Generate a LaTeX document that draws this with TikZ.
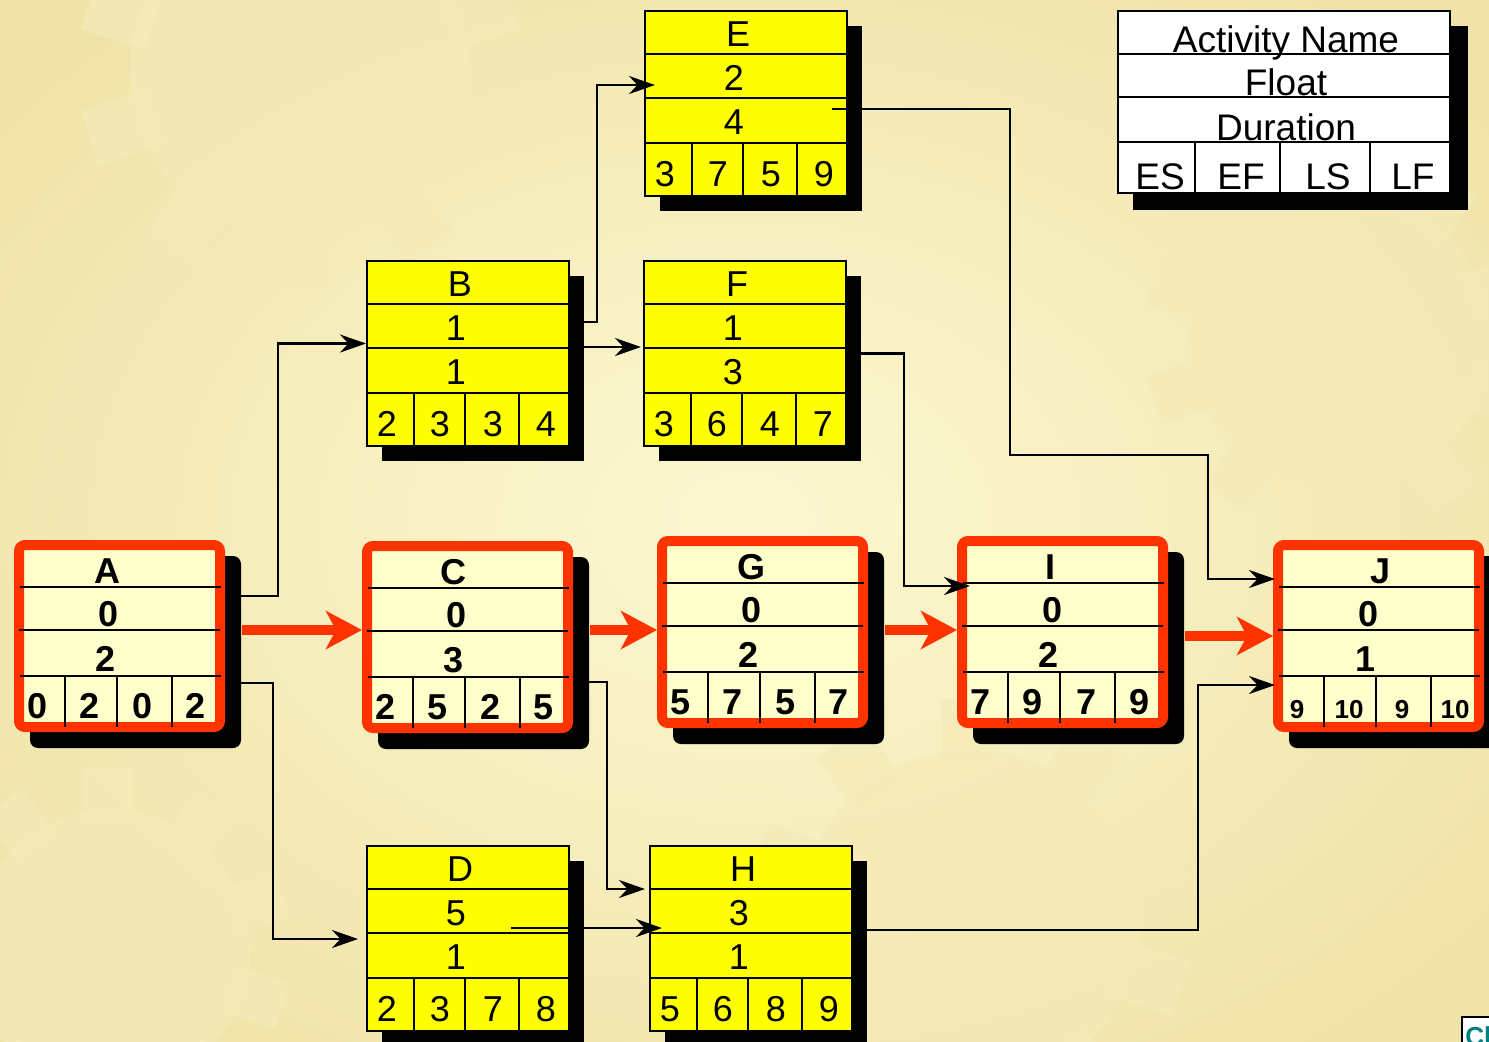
\documentclass[tikz,border=0pt]{standalone}
\usepackage{fontspec}
\setmainfont{Liberation Sans}
\usetikzlibrary{arrows.meta}

\definecolor{boxyellow}{HTML}{FFFF00}
\definecolor{critfill}{HTML}{FFFFCC}
\definecolor{critred}{HTML}{FF3300}
\definecolor{bgtan}{HTML}{F0E3A8}
\definecolor{bgcream}{HTML}{FCF8D2}
\definecolor{cogcol}{HTML}{F5EBB8}

\newcommand{\cog}[3]{%
	\fill[cogcol,opacity=0.7] (#1,#2) circle (#3);
	\foreach \t in {0,36,...,324}
		\fill[cogcol,opacity=0.7,rotate around={\t:(#1,#2)}] (#1-0.17*#3,#2-0.9*#3) rectangle (#1+0.17*#3,#2-1.3*#3);
}

\begin{document}
\begin{tikzpicture}[x=0.5pt,y=-0.5pt,
		box/.style={draw,line width=1pt,fill=boxyellow,anchor=north west,minimum width=101pt,minimum height=92.5pt,inner sep=0pt},
		critbox/.style={draw=critred,line width=5pt,fill=critfill,rounded corners=3pt,anchor=north west,minimum width=100.5pt,minimum height=91pt,inner sep=0pt},
		legbox/.style={draw,line width=1pt,fill=white,anchor=north west,minimum width=166pt,minimum height=91pt,inner sep=0pt},
		txt/.style={anchor=base,inner sep=0pt,font=\fontsize{18}{20}\selectfont},
		crittxt/.style={anchor=base,inner sep=0pt,font=\fontsize{18}{20}\selectfont\bfseries},
		legtxt/.style={anchor=base,inner sep=0pt,font=\fontsize{18.5}{20}\selectfont},
		conn/.style={line width=1.25pt,-{Stealth[length=13pt,width=9pt]}},
		critpath/.style={critred,line width=5pt,-{Stealth[length=18pt,width=19pt,inset=5pt]}}]
		\useasboundingbox (0,0) rectangle (1489,1041);
		\clip (0,0) rectangle (1489,1041);
		\shade[inner color=bgcream,outer color=bgtan] (-200,-150) rectangle (1689,1191);
		\cog{300}{70}{170}
		\cog{1340}{340}{150}
		\cog{970}{920}{170}
		\cog{110}{950}{140}

		\foreach \n/\x/\y/\f/\d/\es/\ef/\ls/\lf in {E/644/10/2/4/3/7/5/9,B/366/260/1/1/2/3/3/4,F/643/260/1/3/3/6/4/7,D/366/845/5/1/2/3/7/8,H/649/845/3/1/5/6/8/9}{
			\fill (\x+16,\y+16) rectangle ++(202,185);
			\node[box] (\n) at (\x,\y) {};
			\draw[line width=1pt] (\x,\y+44) -- ++(202,0) (\x,\y+88) -- ++(202,0) (\x,\y+133) -- ++(202,0);
			\draw[line width=1pt] (\x+48,\y+133) -- ++(0,52) (\x+99,\y+133) -- ++(0,52) (\x+153,\y+133) -- ++(0,52);
			\node[txt] (\n-name) at (\x+94,\y+36) {\n};
			\node[txt] (\n-fl) at (\x+90,\y+80) {\f};
			\node[txt] (\n-du) at (\x+90,\y+124) {\d};
			\node[txt] (\n-es) at (\x+21,\y+176) {\es};
			\node[txt] (\n-ef) at (\x+74,\y+176) {\ef};
			\node[txt] (\n-ls) at (\x+127,\y+176) {\ls};
			\node[txt] (\n-lf) at (\x+180,\y+176) {\lf};
		}

		\foreach \n/\x/\y/\f/\d/\es/\ef/\ls/\lf/\fs/\dx in {A/14/540/0/2/0/2/0/2/18/93,C/362/541/0/3/2/5/2/5/18/91,G/657/536/0/2/5/7/5/7/18/94,I/957/536/0/2/7/9/7/9/18/93,J/1273/540/0/1/9/10/9/10/13/107}{
			\fill[rounded corners=4pt] (\x+16,\y+16) rectangle ++(211,192);
			\node[critbox] (\n) at (\x,\y) {};
			\draw[line width=1pt] (\x+6,\y+47) -- ++(201,0) (\x+5,\y+90) -- ++(201,0) (\x+6,\y+136) -- ++(201,0);
			\draw[line width=1pt] (\x+51,\y+136) -- ++(0,51) (\x+103,\y+136) -- ++(0,51) (\x+158,\y+136) -- ++(0,51);
			\node[crittxt] (\n-name) at (\x+\dx,\y+43) {\n};
			\node[crittxt] (\n-fl) at (\x+95,\y+86) {\f};
			\node[crittxt] (\n-du) at (\x+92,\y+131) {\d};
			\node[crittxt,font=\fontsize{\fs}{\fs}\selectfont\bfseries] (\n-es) at (\x+24,\y+178) {\es};
			\node[crittxt,font=\fontsize{\fs}{\fs}\selectfont\bfseries] (\n-ef) at (\x+76,\y+178) {\ef};
			\node[crittxt,font=\fontsize{\fs}{\fs}\selectfont\bfseries] (\n-ls) at (\x+129,\y+178) {\ls};
			\node[crittxt,font=\fontsize{\fs}{\fs}\selectfont\bfseries] (\n-lf) at (\x+182,\y+178) {\lf};
		}

		\fill (1133,26) rectangle ++(335,184);
		\node[legbox] (key) at (1117,10) {};
		\draw[line width=1pt] (1117,54) -- ++(334,0) (1117,97) -- ++(334,0) (1117,142) -- ++(334,0);
		\draw[line width=1pt] (1195,142) -- ++(0,52) (1280,142) -- ++(0,52) (1370,142) -- ++(0,52);
		\node[legtxt] (key-name) at (1286,52) {Activity Name};
		\node[legtxt] (key-fl) at (1286,95) {Float};
		\node[legtxt] (key-du) at (1286,140) {Duration};
		\node[legtxt] (key-es) at (1160,189) {ES};
		\node[legtxt] (key-ef) at (1241,189) {EF};
		\node[legtxt] (key-ls) at (1328,189) {LS};
		\node[legtxt] (key-lf) at (1413,189) {LF};

		\draw[critpath] ([xshift=8.5pt,yshift=3pt]A.east) -- ([yshift=3.5pt]C.west);
		\draw[critpath] ([xshift=8.5pt,yshift=3.5pt]C.east) -- ([yshift=1pt]G.west);
		\draw[critpath] ([xshift=8.5pt,yshift=1pt]G.east) -- ([yshift=1pt]I.west);
		\draw[critpath] ([xshift=8.5pt,yshift=-2pt]I.east) -- (J.west);

		\draw[conn] ([yshift=20pt]A.east) -- ++(53,0) |- ([yshift=5pt]B.west);
		\draw[conn,shorten >=4pt] ([yshift=-23.5pt]A.east) -- ++(48,0) |- ([yshift=-0.25pt]D.west);
		\draw[conn] ([yshift=15.75pt]B.east) -- ++(27,0) |- ([xshift=5.5pt,yshift=9.25pt]E.west);
		\draw[conn,shorten >=1pt] ([yshift=3.25pt]B.east) -- ([yshift=3.25pt]F.west);
		\draw[conn,shorten >=2pt] ([yshift=-22.5pt]C.east) -- ++(34,0) |- ([yshift=24.75pt]H.west);
		\draw[conn] ([xshift=-29.5pt,yshift=5.25pt]D.east) -- ([xshift=6.5pt,yshift=5.25pt]H.west);
		\draw[conn] ([xshift=-8pt,yshift=-2.75pt]E.east) -- ++(178,0) |- ++(198,346) |- ([xshift=1pt,yshift=28.5pt]J.west);
		\draw[conn] (F.east) -- ++(57,0) |- ([xshift=6.5pt,yshift=23pt]I.west);
		\draw[conn] ([yshift=4.25pt]H.east) -- ++(345,0) |- ([xshift=1pt,yshift=-24.5pt]J.west);

		\draw[line width=1pt,fill=white] (1462,1017) rectangle (1500,1060);
		\node[anchor=north west,inner sep=0pt,text=teal,font=\fontsize{13}{13}\selectfont\bfseries] (logo) at (1465,1026) {Cl};
	\end{tikzpicture}
\end{document}
